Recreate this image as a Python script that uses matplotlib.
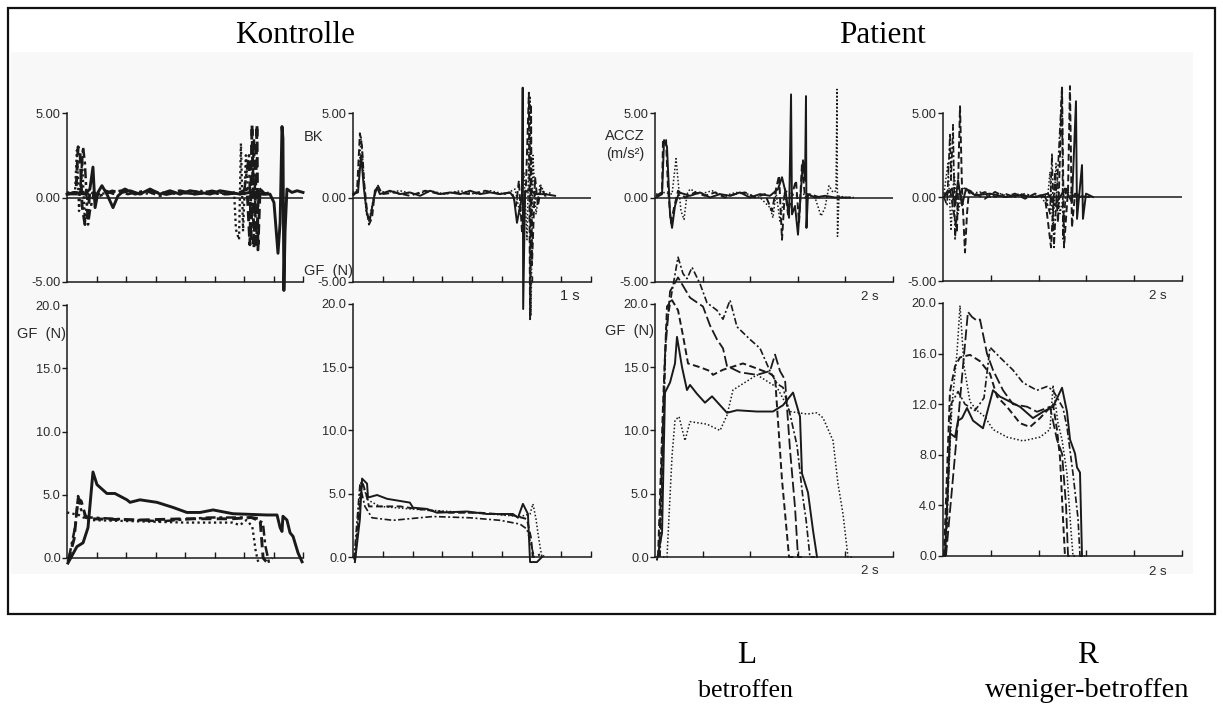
import numpy as np
import matplotlib
matplotlib.use("Agg")
import matplotlib.pyplot as plt
from matplotlib.patches import Rectangle

# ---------------------------------------------------------------------------
# Grip force (GF, N) and vertical acceleration (ACCZ, m/s^2) traces.
# Time in seconds from grip onset.  kl/kr = Kontrolle, pl/pr = Patient L/R.
# ---------------------------------------------------------------------------

# Kontrolle, first hand: acceleration
kl_acc_solid_t = [0.000, 0.034, 0.076, 0.097, 0.110, 0.119, 0.131, 0.148, 0.169, 0.195, 0.216, 0.233, 0.267,
                  0.309, 0.352, 0.394, 0.436, 0.479, 0.521, 0.564, 0.606, 0.648, 0.691, 0.733, 0.775, 0.818,
                  0.860, 0.877, 0.894, 0.903, 0.911, 0.915, 0.919, 0.924, 0.932, 0.953, 0.975, 1.000]
kl_acc_solid = [0.2, 0.3, 0.2, 0.5, 1.8, -0.6, 0.3, 0.7, 0.2, -0.6, 0.1, 0.3, 0.4, 0.2, 0.5, 0.2, 0.4, 0.2,
                0.4, 0.3, 0.2, 0.4, 0.3, 0.2, 0.3, 0.2, 0.2, -0.3, -3.3, -1.5, 4.2, 3.5, -5.5, -2.0, 0.5, 0.3,
                0.4, 0.3]
kl_acc_dashed_t = [0.000, 0.038, 0.047, 0.055, 0.064, 0.076, 0.089, 0.097, 0.123, 0.161, 0.203, 0.246, 0.288,
                   0.352, 0.415, 0.479, 0.542, 0.606, 0.669, 0.733, 0.763, 0.775, 0.784, 0.792, 0.801, 0.805,
                   0.809, 0.818, 0.839, 0.860]
kl_acc_dashed = [0.2, 0.3, 3.0, 2.8, -0.5, -1.6, -1.0, 0.4, 0.1, 0.4, 0.2, 0.5, 0.2, 0.4, 0.2, 0.4, 0.2, 0.3,
                 0.2, 0.3, 0.5, -2.8, 4.3, -3.0, 1.5, 4.3, -3.1, 0.5, 0.2, 0.3]
kl_acc_dashdot_t = [0.000, 0.055, 0.068, 0.076, 0.089, 0.097, 0.114, 0.140, 0.191, 0.258, 0.331, 0.394, 0.470,
                    0.547, 0.614, 0.682, 0.750, 0.771, 0.780, 0.792, 0.801, 0.814, 0.831, 0.852]
kl_acc_dashdot = [0.2, 0.2, 3.0, 2.0, -1.6, -0.8, 0.3, 0.1, 0.4, 0.2, 0.4, 0.1, 0.3, 0.2, 0.4, 0.2, 0.3, 2.5,
                  -2.6, 3.5, -2.8, 0.6, 0.2, 0.3]
kl_acc_dotted_t = [0.000, 0.034, 0.042, 0.051, 0.064, 0.076, 0.089, 0.140, 0.225, 0.309, 0.394, 0.479, 0.564,
                   0.648, 0.708, 0.716, 0.729, 0.737, 0.746, 0.758, 0.767, 0.797, 0.826]
kl_acc_dotted = [0.3, 0.3, 2.8, -0.8, 2.2, -1.5, 0.3, 0.2, 0.4, 0.2, 0.3, 0.2, 0.4, 0.2, 0.3, -1.9, -2.5, 3.2,
                 -2.0, 2.5, 0.3, 0.2, 0.3]

# Kontrolle, first hand: grip force
kl_gf_solid_t = [0.004, 0.042, 0.068, 0.089, 0.110, 0.127, 0.169, 0.203, 0.254, 0.267, 0.309, 0.381, 0.449,
                 0.508, 0.564, 0.619, 0.703, 0.847, 0.890, 0.903, 0.911, 0.915, 0.932, 0.945, 0.958, 0.979, 0.996]
kl_gf_solid = [-0.4, 0.9, 1.2, 2.4, 6.8, 5.8, 5.1, 5.1, 4.6, 4.4, 4.6, 4.4, 4.0, 3.6, 3.6, 3.8, 3.5, 3.4, 3.4,
               2.4, 2.1, 3.3, 3.0, 2.0, 1.7, 0.4, -0.3]
kl_gf_dashed_t = [0.004, 0.030, 0.047, 0.060, 0.080, 0.100, 0.300, 0.500, 0.700, 0.780, 0.818, 0.831, 0.845]
kl_gf_dashed = [-0.3, 1.5, 4.7, 4.5, 3.2, 3.1, 3.0, 3.1, 3.1, 3.2, 3.1, 0.0, -0.3]
kl_gf_dashdot_t = [0.008, 0.035, 0.047, 0.060, 0.080, 0.100, 0.400, 0.600, 0.780, 0.830, 0.840, 0.855, 0.870]
kl_gf_dashdot = [0.0, 2.5, 4.9, 3.8, 3.3, 3.2, 2.9, 3.2, 3.2, 2.8, 1.0, -0.3, 0.0]
kl_gf_dotted_t = [0.000, 0.050, 0.090, 0.300, 0.500, 0.700, 0.733, 0.760, 0.785, 0.800, 0.810]
kl_gf_dotted = [3.6, 3.4, 3.0, 2.9, 2.8, 2.8, 2.6, 3.0, 2.5, 0.5, -0.3]

# Kontrolle, second hand: acceleration
kr_acc_solid_t = [0.000, 0.021, 0.034, 0.046, 0.059, 0.071, 0.088, 0.101, 0.113, 0.155, 0.197, 0.239, 0.282,
                  0.324, 0.366, 0.408, 0.450, 0.492, 0.534, 0.576, 0.618, 0.660, 0.676, 0.689, 0.702, 0.710,
                  0.713, 0.715, 0.723, 0.744, 0.765, 0.807, 0.849]
kr_acc_solid = [0.2, 0.3, 2.5, 0.5, -1.0, -1.3, 0.0, 0.6, 0.2, 0.4, 0.2, 0.3, 0.1, 0.4, 0.2, 0.3, 0.2, 0.4, 0.2,
                0.3, 0.2, 0.3, 0.0, -1.5, -0.5, 0.0, 6.5, -6.6, 0.3, 0.5, 0.2, 0.2, 0.1]
kr_acc_dashed_t = [0.000, 0.017, 0.029, 0.038, 0.046, 0.059, 0.067, 0.080, 0.092, 0.105, 0.122, 0.176, 0.239,
                   0.303, 0.366, 0.429, 0.492, 0.555, 0.618, 0.668, 0.685, 0.697, 0.710, 0.727, 0.739, 0.744,
                   0.748, 0.752, 0.765, 0.777, 0.790, 0.807, 0.828]
kr_acc_dashed = [0.1, 0.4, 3.8, 3.0, 1.0, -0.8, -1.6, -1.2, 0.4, 0.7, 0.2, 0.3, 0.1, 0.4, 0.2, 0.3, 0.2, 0.4,
                 0.2, 0.3, -0.5, 1.0, -2.0, 0.8, 6.2, -7.2, 5.5, -4.0, 1.2, -0.5, 0.6, 0.1, 0.2]
kr_acc_dotted_t = [0.000, 0.021, 0.034, 0.042, 0.055, 0.067, 0.084, 0.097, 0.134, 0.197, 0.261, 0.324, 0.387,
                   0.450, 0.513, 0.576, 0.639, 0.681, 0.702, 0.718, 0.731, 0.744, 0.748, 0.756, 0.769, 0.786,
                   0.807, 0.836]
kr_acc_dotted = [0.3, 0.5, 3.6, 2.0, -0.9, -1.4, -0.2, 0.5, 0.3, 0.4, 0.2, 0.4, 0.2, 0.4, 0.2, 0.4, 0.2, 0.5,
                 -1.0, 1.5, -2.5, 6.0, -7.0, 2.5, -1.0, 0.8, 0.2, 0.3]

# Kontrolle, second hand: grip force
kr_gf_solid_t = [0.008, 0.029, 0.038, 0.059, 0.063, 0.101, 0.143, 0.239, 0.252, 0.311, 0.353, 0.479, 0.563,
                 0.672, 0.693, 0.714, 0.735, 0.744, 0.773, 0.794]
kr_gf_solid = [-0.4, 3.0, 6.2, 5.8, 4.7, 4.9, 4.6, 4.3, 3.9, 3.8, 3.5, 3.6, 3.4, 3.4, 3.1, 4.2, 3.4, -0.4, -0.4,
               0.0]
kr_gf_dashed_t = [0.008, 0.038, 0.055, 0.067, 0.197, 0.269, 0.408, 0.534, 0.672, 0.731, 0.748, 0.756, 0.786]
kr_gf_dashed = [-0.3, 6.0, 5.0, 4.0, 4.0, 3.8, 3.5, 3.5, 3.3, 3.0, 1.5, 0.0, 0.2]
kr_gf_dashdot_t = [0.004, 0.029, 0.050, 0.080, 0.168, 0.336, 0.492, 0.618, 0.702, 0.731, 0.748, 0.761]
kr_gf_dashdot = [-0.2, 5.7, 4.0, 3.1, 2.9, 3.2, 3.1, 2.9, 2.6, 2.2, 1.0, 0.0]
kr_gf_dotted_t = [0.008, 0.034, 0.063, 0.113, 0.239, 0.408, 0.576, 0.702, 0.744, 0.756, 0.769, 0.777, 0.786,
                  0.794, 0.811]
kr_gf_dotted = [0.0, 6.0, 4.5, 4.0, 3.8, 3.6, 3.4, 3.2, 3.4, 4.2, 3.0, 1.9, 0.8, 0.0, 0.2]

# Patient, L (betroffen): acceleration
pl_acc_solid_t = [0.011, 0.074, 0.095, 0.126, 0.158, 0.179, 0.210, 0.252, 0.368, 0.473, 0.578, 0.683, 0.788,
                  0.893, 0.998, 1.103, 1.208, 1.292, 1.334, 1.376, 1.408, 1.429, 1.439, 1.471, 1.502, 1.534,
                  1.555, 1.576, 1.586, 1.591, 1.607, 1.681, 1.786, 1.891, 2.048]
pl_acc_solid = [0.0, 0.2, 3.4, 3.0, -1.0, -1.8, -0.5, 0.3, 0.1, 0.3, 0.0, 0.2, 0.1, 0.3, 0.0, 0.2, 0.1, 0.5,
                1.2, 0.2, -1.2, 6.1, -1.0, -0.5, -2.2, 0.5, 2.2, 1.0, 6.0, -1.8, 0.2, 0.0, 0.1, 0.0, 0.0]
pl_acc_dashed_t = [0.011, 0.074, 0.084, 0.116, 0.137, 0.168, 0.200, 0.242, 0.315, 0.420, 0.525, 0.630, 0.735,
                   0.840, 0.945, 1.050, 1.155, 1.229, 1.271, 1.303, 1.334, 1.366, 1.397, 1.439, 1.481, 1.513,
                   1.544, 1.576, 1.628, 1.733]
pl_acc_dashed = [0.1, 0.3, 3.4, 3.4, 0.5, -1.5, -0.6, 0.4, 0.0, 0.3, 0.1, 0.3, 0.0, 0.2, 0.3, 0.0, 0.2, -0.8,
                 0.5, 1.3, -2.5, 0.5, -1.0, 0.2, 1.0, -1.5, 2.0, 0.0, 0.2, 0.0]
pl_acc_dotted_t = [0.011, 0.105, 0.179, 0.221, 0.242, 0.273, 0.305, 0.336, 0.368, 0.473, 0.599, 0.725, 0.851,
                   0.977, 1.103, 1.208, 1.239, 1.271, 1.313, 1.366, 1.471, 1.576, 1.681, 1.744, 1.786, 1.828,
                   1.870, 1.901, 1.912, 1.917, 1.933, 1.996, 2.101]
pl_acc_dotted = [0.2, 0.3, 0.2, 2.3, 1.0, -0.8, -1.3, 0.2, 0.5, 0.2, 0.4, 0.1, 0.3, 0.2, 0.0, -0.6, -1.2, 0.3,
                 -1.4, 0.4, 0.1, 0.2, 0.0, -1.1, -0.6, 0.7, 0.3, 0.4, 6.4, -2.3, 0.1, 0.0, 0.0]

# Patient, L (betroffen): grip force
pl_gf_solid_t = [0.021, 0.074, 0.105, 0.158, 0.210, 0.231, 0.284, 0.336, 0.368, 0.441, 0.525, 0.599, 0.756,
                 0.861, 1.071, 1.239, 1.345, 1.450, 1.523, 1.544, 1.607, 1.660, 1.702]
pl_gf_solid = [-0.2, 1.9, 13.0, 13.8, 15.3, 17.4, 15.0, 13.2, 13.6, 12.9, 12.2, 12.7, 11.4, 11.6, 11.5, 11.5,
               12.0, 13.0, 11.1, 6.6, 5.1, 2.1, 0.0]
pl_gf_dashed_t = [0.032, 0.084, 0.126, 0.179, 0.242, 0.294, 0.347, 0.473, 0.578, 0.609, 0.714, 0.924, 1.071,
                  1.208, 1.261, 1.334, 1.408, 1.460]
pl_gf_dashed = [0.0, 12.0, 19.8, 20.3, 19.5, 17.5, 15.3, 15.0, 14.7, 14.4, 14.8, 15.3, 14.9, 14.5, 14.2, 6.1,
                0.0, 0.0]
pl_gf_longdash_t = [0.042, 0.105, 0.158, 0.242, 0.368, 0.504, 0.578, 0.651, 0.714, 0.756, 0.893, 1.071, 1.208,
                    1.261, 1.313, 1.366, 1.418, 1.471, 1.502, 1.544]
pl_gf_longdash = [0.0, 16.0, 21.0, 22.1, 20.5, 19.8, 18.3, 17.2, 16.5, 15.1, 14.6, 14.4, 14.7, 16.0, 14.7, 14.0,
                  8.5, 3.9, 0.0, 0.0]
pl_gf_dashdot_t = [0.053, 0.116, 0.179, 0.242, 0.294, 0.336, 0.389, 0.473, 0.546, 0.651, 0.714, 0.788, 0.861,
                   0.998, 1.103, 1.208, 1.282, 1.345, 1.418, 1.492, 1.555, 1.586, 1.628, 1.681]
pl_gf_dashdot = [0.0, 18.0, 21.0, 23.7, 22.4, 22.0, 22.9, 21.6, 20.1, 19.5, 18.8, 20.3, 18.2, 17.2, 16.5, 14.7,
                 13.7, 13.4, 11.3, 8.8, 4.6, 3.0, 0.0, 0.0]
pl_gf_dotted_t = [0.084, 0.126, 0.179, 0.210, 0.252, 0.315, 0.368, 0.546, 0.683, 0.756, 0.819, 0.924, 1.071,
                  1.282, 1.418, 1.597, 1.702, 1.765, 1.870, 1.922, 1.975, 2.027, 2.080]
pl_gf_dotted = [0.0, 0.0, 8.0, 10.8, 11.1, 9.2, 10.7, 10.5, 10.0, 11.2, 13.2, 13.7, 14.4, 13.4, 11.5, 11.3, 11.4,
                11.0, 9.2, 5.8, 3.4, 0.0, 0.0]

# Patient, R (weniger betroffen): acceleration
pr_acc_dashdot_t = [0.010, 0.042, 0.073, 0.084, 0.105, 0.126, 0.146, 0.178, 0.230, 0.335, 0.439, 0.544, 0.649,
                    0.753, 0.858, 0.962, 1.067, 1.119, 1.140, 1.161, 1.192, 1.245, 1.255, 1.287, 1.328, 1.433,
                    1.538]
pr_acc_dashdot = [0.0, -0.5, 3.8, 1.0, 4.3, -2.5, -1.0, 0.3, 0.5, 0.1, 0.3, 0.0, 0.2, 0.0, 0.2, 0.0, 0.1, -1.0,
                  2.6, -3.0, 0.5, 6.6, -2.5, 0.5, 0.1, 0.0, 0.0]
pr_acc_dashed_t = [0.010, 0.073, 0.115, 0.146, 0.178, 0.199, 0.230, 0.251, 0.272, 0.335, 0.439, 0.544, 0.649,
                   0.753, 0.858, 0.962, 1.067, 1.130, 1.172, 1.203, 1.245, 1.266, 1.308, 1.328, 1.349, 1.381,
                   1.485]
pr_acc_dashed = [0.1, 0.5, -1.0, -2.0, 5.4, 0.5, -3.3, -1.0, 0.4, 0.2, -0.1, 0.3, 0.0, 0.2, -0.1, 0.2, 0.0,
                 -3.0, 1.5, -1.5, 6.6, -3.0, 0.5, 6.6, -1.8, 0.2, 0.0]
pr_acc_solid_t = [0.010, 0.094, 0.126, 0.157, 0.199, 0.241, 0.335, 0.492, 0.649, 0.805, 0.962, 1.098, 1.172,
                  1.276, 1.349, 1.391, 1.402, 1.423, 1.454, 1.464, 1.496, 1.569]
pr_acc_solid = [0.0, 0.5, -0.5, 1.0, -0.5, 0.5, 0.1, 0.2, 0.0, 0.1, 0.0, 0.2, -0.5, 0.5, -0.3, 5.7, -1.3, 0.0,
                1.9, -1.3, 0.2, 0.0]
pr_acc_dotted_t = [0.010, 0.052, 0.084, 0.115, 0.157, 0.209, 0.282, 0.387, 0.492, 0.596, 0.701, 0.805, 0.910,
                   1.015, 1.088, 1.119, 1.151, 1.182, 1.224, 1.276, 1.381, 1.538]
pr_acc_dotted = [0.2, 2.0, -2.0, 1.5, -1.0, 0.6, 0.2, 0.3, 0.0, 0.2, 0.0, 0.2, 0.0, 0.1, -0.5, 1.5, -2.0, 2.0,
                 -1.0, 0.5, 0.1, 0.0]

# Patient, R (weniger betroffen): grip force
pr_gf_solid_t = [0.021, 0.073, 0.126, 0.157, 0.199, 0.251, 0.314, 0.418, 0.523, 0.596, 0.805, 0.941, 1.046,
                 1.151, 1.245, 1.297, 1.329, 1.381, 1.402, 1.433, 1.454]
pr_gf_solid = [0.0, 9.7, 9.4, 10.7, 10.9, 11.7, 10.7, 10.1, 13.1, 12.6, 11.8, 10.9, 11.4, 11.8, 13.3, 11.4, 9.2,
               8.1, 7.0, 6.6, 0.0]
pr_gf_dotted_t = [0.021, 0.094, 0.146, 0.178, 0.220, 0.282, 0.356, 0.439, 0.523, 0.669, 0.837, 1.015, 1.119,
                  1.151, 1.203, 1.245, 1.297, 1.339, 1.360]
pr_gf_dotted = [0.0, 12.0, 16.0, 19.8, 15.0, 12.2, 11.5, 11.0, 10.0, 9.4, 9.1, 9.4, 10.0, 13.5, 10.5, 9.2, 6.5,
                2.0, 0.0]
pr_gf_longdash_t = [0.031, 0.126, 0.209, 0.261, 0.303, 0.356, 0.387, 0.460, 0.523, 0.628, 0.732, 0.879, 0.983,
                    1.119, 1.192, 1.245, 1.287, 1.308, 1.381]
pr_gf_longdash = [0.0, 8.0, 15.0, 19.3, 18.9, 18.6, 18.7, 16.0, 14.7, 13.1, 12.0, 11.8, 11.4, 11.8, 9.2, 8.1,
                  4.0, 0.0, 0.0]
pr_gf_dashed_t = [0.010, 0.073, 0.126, 0.178, 0.282, 0.387, 0.492, 0.565, 0.669, 0.805, 0.910, 1.015, 1.151,
                  1.192, 1.224, 1.255, 1.276]
pr_gf_dashed = [0.0, 13.0, 15.0, 15.7, 15.9, 15.4, 14.4, 12.6, 11.8, 10.5, 10.2, 10.9, 12.0, 10.0, 7.8, 3.0, 0.0]
pr_gf_dashdot_t = [0.031, 0.084, 0.157, 0.230, 0.335, 0.429, 0.492, 0.596, 0.732, 0.837, 0.983, 1.088, 1.151,
                   1.255, 1.297, 1.360, 1.412, 1.433, 1.485]
pr_gf_dashdot = [0.0, 12.0, 13.0, 12.0, 11.5, 12.5, 16.5, 15.7, 14.7, 13.7, 13.1, 13.4, 13.1, 11.7, 10.2, 6.5,
                 3.0, 0.0, 0.0]

# Axis scales and labels
acc_ticks = [-5, 0, 5]
acc_ticklabels = ["-5.00", "0.00", "5.00"]
gf_ticks = [0, 5, 10, 15, 20]
gf_ticklabels = ["0.0", "5.0", "10.0", "15.0", "20.0"]
gf_ticks_r = [0, 4, 8, 12, 16, 20]
gf_ticklabels_r = ["0.0", "4.0", "8.0", "12.0", "16.0", "20.0"]
ctrl_span, ctrl_step = 1.0, 0.125
pat_span, pat_step = 2.5, 0.5

# ---------------------------------------------------------------------------
W, H = 1223, 711
fig = plt.figure(figsize=(W / 100, H / 100), dpi=100)
fig.patch.set_facecolor("white")

INK = "#1a1a1a"
TXT = "#2a2a2a"
SANS = ["Liberation Sans", "DejaVu Sans"]
SERIF = ["Liberation Serif", "DejaVu Serif"]

STYLE = {
    "solid": dict(linestyle="-", linewidth=1.4),
    "dashed": dict(linestyle=(0, (3.5, 1.8)), linewidth=1.4),
    "longdash": dict(linestyle=(0, (6, 2)), linewidth=1.3),
    "dashdot": dict(linestyle=(0, (4, 1.5, 1.2, 1.5)), linewidth=1.2),
    "dotted": dict(linestyle=(0, (1, 1.4)), linewidth=1.1),
}


def fig_xy(x, y):
    return x / W, 1 - y / H


def px_axes(x0, y_top, x1, y_bot):
    return fig.add_axes([x0 / W, 1 - y_bot / H, (x1 - x0) / W, (y_bot - y_top) / H])


# faint scan tone behind the plotting area
fig.patches.append(Rectangle(fig_xy(11, 574), (1193 - 11) / W, (574 - 52) / H,
                             transform=fig.transFigure, facecolor="#f8f8f8",
                             edgecolor="none", zorder=-5))
# frame
fig.patches.append(Rectangle(fig_xy(8, 614), (1215 - 8) / W, (614 - 8) / H,
                             transform=fig.transFigure, facecolor="none",
                             edgecolor="#111111", linewidth=1.6, zorder=5))


def setup(ax, span, step, ylim, yticks, ylabels, zero_line):
    ax.patch.set_alpha(0)
    ax.set_xlim(0, span)
    ax.set_ylim(*ylim)
    for s in ("top", "right"):
        ax.spines[s].set_visible(False)
    for s in ("left", "bottom"):
        ax.spines[s].set_color(INK)
        ax.spines[s].set_linewidth(1.1)
    ax.set_xticks(np.arange(step, span + step / 2, step))
    ax.set_xticklabels([])
    ax.tick_params(axis="x", direction="in", length=4, width=1.0, color=INK)
    ax.set_yticks(yticks)
    ax.set_yticklabels(ylabels, fontfamily=SANS, fontsize=9.2, color=TXT)
    ax.tick_params(axis="y", direction="out", length=3.5, width=1.0, color=INK, pad=1)
    if zero_line:
        ax.axhline(0, color=INK, linewidth=1.1, zorder=1)


def draw(ax, traces, heavy=1.0):
    for style, t, v in traces:
        kw = dict(STYLE[style])
        kw["linewidth"] *= heavy
        ax.plot(t, v, color=INK, clip_on=False, solid_joinstyle="round", **kw)


# pixel boxes: (left, top(upper ylim), right, bottom(lower ylim))
panels = [
    dict(acc_box=(67, 113, 303, 282), gf_box=(67, 305, 303, 558), span=ctrl_span, step=ctrl_step,
         gf_ticks=(gf_ticks, gf_ticklabels),
         acc=[("dotted", kl_acc_dotted_t, kl_acc_dotted), ("dashdot", kl_acc_dashdot_t, kl_acc_dashdot),
              ("dashed", kl_acc_dashed_t, kl_acc_dashed), ("solid", kl_acc_solid_t, kl_acc_solid)],
         gf=[("dotted", kl_gf_dotted_t, kl_gf_dotted), ("dashdot", kl_gf_dashdot_t, kl_gf_dashdot),
             ("dashed", kl_gf_dashed_t, kl_gf_dashed), ("solid", kl_gf_solid_t, kl_gf_solid)],
         heavy=1.5),
    dict(acc_box=(353, 113, 591, 282), gf_box=(353, 304, 591, 557), span=ctrl_span, step=ctrl_step,
         gf_ticks=(gf_ticks, gf_ticklabels),
         acc=[("dotted", kr_acc_dotted_t, kr_acc_dotted), ("dashed", kr_acc_dashed_t, kr_acc_dashed),
              ("solid", kr_acc_solid_t, kr_acc_solid)],
         gf=[("dotted", kr_gf_dotted_t, kr_gf_dotted), ("dashdot", kr_gf_dashdot_t, kr_gf_dashdot),
             ("dashed", kr_gf_dashed_t, kr_gf_dashed), ("solid", kr_gf_solid_t, kr_gf_solid)],
         heavy=1.0),
    dict(acc_box=(655, 113, 893, 282), gf_box=(655, 304, 893, 557), span=pat_span, step=pat_step,
         gf_ticks=(gf_ticks, gf_ticklabels),
         acc=[("dotted", pl_acc_dotted_t, pl_acc_dotted), ("dashed", pl_acc_dashed_t, pl_acc_dashed),
              ("solid", pl_acc_solid_t, pl_acc_solid)],
         gf=[("dotted", pl_gf_dotted_t, pl_gf_dotted), ("dashdot", pl_gf_dashdot_t, pl_gf_dashdot),
             ("longdash", pl_gf_longdash_t, pl_gf_longdash), ("dashed", pl_gf_dashed_t, pl_gf_dashed),
             ("solid", pl_gf_solid_t, pl_gf_solid)],
         heavy=1.0),
    dict(acc_box=(943, 113, 1182, 281), gf_box=(943, 303, 1182, 556), span=pat_span, step=pat_step,
         gf_ticks=(gf_ticks_r, gf_ticklabels_r),
         acc=[("dotted", pr_acc_dotted_t, pr_acc_dotted), ("dashdot", pr_acc_dashdot_t, pr_acc_dashdot),
              ("dashed", pr_acc_dashed_t, pr_acc_dashed), ("solid", pr_acc_solid_t, pr_acc_solid)],
         gf=[("dotted", pr_gf_dotted_t, pr_gf_dotted), ("dashdot", pr_gf_dashdot_t, pr_gf_dashdot),
             ("longdash", pr_gf_longdash_t, pr_gf_longdash), ("dashed", pr_gf_dashed_t, pr_gf_dashed),
             ("solid", pr_gf_solid_t, pr_gf_solid)],
         heavy=1.0),
]

for p in panels:
    ax_acc = px_axes(*p["acc_box"])
    setup(ax_acc, p["span"], p["step"], (-5, 5), acc_ticks, acc_ticklabels, zero_line=True)
    draw(ax_acc, p["acc"], p["heavy"])

    ax_gf = px_axes(*p["gf_box"])
    ticks, labels = p["gf_ticks"]
    setup(ax_gf, p["span"], p["step"], (0, 20), ticks, labels, zero_line=False)
    draw(ax_gf, p["gf"], p["heavy"])


def label(x, y, s, size=10.5, **kw):
    fx, fy = fig_xy(x, y)
    fig.text(fx, fy, s, fontsize=size, color=TXT, fontfamily=SANS, va="center", **kw)


label(304, 137, "BK", ha="left")
label(304, 271, "GF  (N)", ha="left")
label(17, 334, "GF  (N)", ha="left")
label(605, 136, "ACCZ", ha="left")
label(606, 154, "(m/s²)", ha="left")
label(605, 331, "GF  (N)", ha="left")
label(570, 296, "1 s", ha="center")
label(870, 297, "2 s", ha="center", size=9.5)
label(870, 571, "2 s", ha="center", size=9.5)
label(1158, 296, "2 s", ha="center", size=9.5)
label(1158, 572, "2 s", ha="center", size=9.5)


def serif(x, y, s, size):
    fx, fy = fig_xy(x, y)
    fig.text(fx, fy, s, fontsize=size, color="#000000", fontfamily=SERIF, ha="center", va="baseline")


serif(295, 43, "Kontrolle", 22.5)
serif(882, 43, "Patient", 22.5)
serif(747, 663, "L", 22.5)
serif(746, 697, "betroffen", 18.8)
serif(1087, 663, "R", 22.5)
serif(1087, 697, "weniger-betroffen", 20.5)

fig.savefig("out.png", dpi=100)
